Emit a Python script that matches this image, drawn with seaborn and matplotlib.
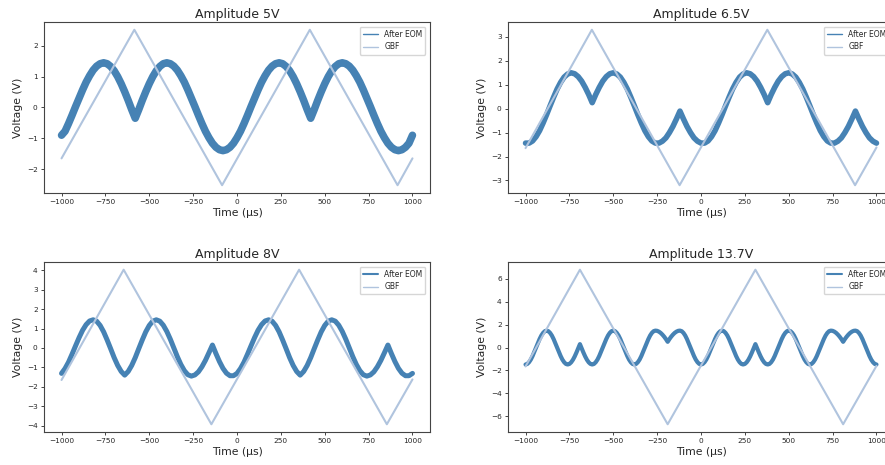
import numpy as np
import matplotlib
matplotlib.use("Agg")
import matplotlib.pyplot as plt
from matplotlib.lines import Line2D
import seaborn as sns

EOM_COLOR = "#4682b4"
GBF_COLOR = "#b0c4de"

titles = ["Amplitude 5V", "Amplitude 6.5V", "Amplitude 8V", "Amplitude 13.7V"]

# sample times of the photodiode trace (µs)
time_20 = np.arange(-1000, 1001, 20)
time_10 = np.arange(-1000, 1001, 10)

# output after the EOM (V)
eom_5v = [
    -0.90, -0.77, -0.52, -0.25, 0.03, 0.30, 0.57, 0.82, 1.03, 1.21,
    1.34, 1.42, 1.45, 1.42, 1.33, 1.19, 1.00, 0.77, 0.51, 0.23,
    -0.07, -0.35, -0.07, 0.23, 0.51, 0.77, 1.00, 1.19, 1.33, 1.42,
    1.45, 1.42, 1.34, 1.21, 1.03, 0.82, 0.57, 0.30, 0.03, -0.25,
    -0.52, -0.77, -0.98, -1.16, -1.29, -1.37, -1.40, -1.37, -1.29, -1.16,
    -0.98, -0.77, -0.52, -0.25, 0.03, 0.30, 0.57, 0.82, 1.03, 1.21,
    1.34, 1.42, 1.45, 1.42, 1.33, 1.19, 1.00, 0.77, 0.51, 0.23,
    -0.07, -0.35, -0.07, 0.23, 0.51, 0.77, 1.00, 1.19, 1.33, 1.42,
    1.45, 1.42, 1.34, 1.21, 1.03, 0.82, 0.57, 0.30, 0.03, -0.25,
    -0.52, -0.77, -0.98, -1.16, -1.29, -1.37, -1.40, -1.37, -1.29, -1.16,
    -0.90,
]

eom_6v5 = [
    -1.44, -1.44, -1.35, -1.17, -0.92, -0.60, -0.25, 0.12, 0.48, 0.82,
    1.10, 1.32, 1.45, 1.50, 1.46, 1.34, 1.15, 0.89, 0.59, 0.25,
    0.59, 0.89, 1.15, 1.34, 1.46, 1.50, 1.45, 1.32, 1.10, 0.82,
    0.48, 0.12, -0.25, -0.60, -0.92, -1.17, -1.35, -1.44, -1.44, -1.36,
    -1.22, -1.00, -0.74, -0.43, -0.10, -0.43, -0.74, -1.00, -1.22, -1.36,
    -1.44, -1.44, -1.35, -1.17, -0.92, -0.60, -0.25, 0.12, 0.48, 0.82,
    1.10, 1.32, 1.45, 1.50, 1.46, 1.34, 1.15, 0.89, 0.59, 0.25,
    0.59, 0.89, 1.15, 1.34, 1.46, 1.50, 1.45, 1.32, 1.10, 0.82,
    0.48, 0.12, -0.25, -0.60, -0.92, -1.17, -1.35, -1.44, -1.44, -1.36,
    -1.22, -1.00, -0.74, -0.43, -0.10, -0.43, -0.74, -1.00, -1.22, -1.36,
    -1.44,
]

eom_8v = [
    -1.31, -1.06, -0.73, -0.32, 0.11, 0.53, 0.91, 1.20, 1.39, 1.45,
    1.38, 1.16, 0.83, 0.41, -0.04, -0.50, -0.90, -1.21, -1.40, -1.21,
    -0.90, -0.50, -0.04, 0.41, 0.83, 1.16, 1.38, 1.45, 1.38, 1.17,
    0.85, 0.45, 0.00, -0.45, -0.85, -1.17, -1.38, -1.45, -1.39, -1.23,
    -0.97, -0.64, -0.25, 0.15, -0.29, -0.70, -1.05, -1.30, -1.43, -1.43,
    -1.31, -1.06, -0.73, -0.32, 0.11, 0.53, 0.91, 1.20, 1.39, 1.45,
    1.38, 1.16, 0.83, 0.41, -0.04, -0.50, -0.90, -1.21, -1.40, -1.21,
    -0.90, -0.50, -0.04, 0.41, 0.83, 1.16, 1.38, 1.45, 1.38, 1.17,
    0.85, 0.45, 0.00, -0.45, -0.85, -1.17, -1.38, -1.45, -1.39, -1.23,
    -0.97, -0.64, -0.25, 0.15, -0.29, -0.70, -1.05, -1.30, -1.43, -1.43,
    -1.31,
]

eom_13v7 = [
    -1.48, -1.43, -1.28, -1.05, -0.74, -0.38, 0.00, 0.38, 0.74, 1.05,
    1.28, 1.43, 1.48, 1.43, 1.28, 1.05, 0.74, 0.38, 0.00, -0.38,
    -0.74, -1.05, -1.28, -1.43, -1.48, -1.43, -1.29, -1.07, -0.78, -0.44,
    -0.07, 0.30, -0.07, -0.44, -0.78, -1.07, -1.29, -1.43, -1.48, -1.43,
    -1.28, -1.05, -0.74, -0.38, 0.00, 0.38, 0.74, 1.05, 1.28, 1.43,
    1.48, 1.43, 1.28, 1.05, 0.74, 0.38, 0.00, -0.38, -0.74, -1.05,
    -1.28, -1.43, -1.48, -1.43, -1.28, -1.05, -0.74, -0.38, 0.00, 0.38,
    0.74, 1.05, 1.28, 1.43, 1.48, 1.46, 1.39, 1.28, 1.13, 0.95,
    0.74, 0.50, 0.74, 0.95, 1.13, 1.28, 1.39, 1.46, 1.48, 1.43,
    1.28, 1.05, 0.74, 0.38, 0.00, -0.38, -0.74, -1.05, -1.28, -1.43,
    -1.48, -1.43, -1.28, -1.05, -0.74, -0.38, 0.00, 0.38, 0.74, 1.05,
    1.28, 1.43, 1.48, 1.43, 1.28, 1.05, 0.74, 0.38, 0.00, -0.38,
    -0.74, -1.05, -1.28, -1.43, -1.48, -1.43, -1.29, -1.07, -0.78, -0.44,
    -0.07, 0.30, -0.07, -0.44, -0.78, -1.07, -1.29, -1.43, -1.48, -1.43,
    -1.28, -1.05, -0.74, -0.38, 0.00, 0.38, 0.74, 1.05, 1.28, 1.43,
    1.48, 1.43, 1.28, 1.05, 0.74, 0.38, 0.00, -0.38, -0.74, -1.05,
    -1.28, -1.43, -1.48, -1.43, -1.28, -1.05, -0.74, -0.38, 0.00, 0.38,
    0.74, 1.05, 1.28, 1.43, 1.48, 1.46, 1.39, 1.28, 1.13, 0.95,
    0.74, 0.50, 0.74, 0.95, 1.13, 1.28, 1.39, 1.46, 1.48, 1.43,
    1.28, 1.05, 0.74, 0.38, 0.00, -0.38, -0.74, -1.05, -1.28, -1.43,
    -1.48,
]

# triangle from the signal generator: corner times (µs) and voltages (V)
gbf_5v_t = [-1000, -585, -85, 415, 915, 1000]
gbf_5v = [-1.65, 2.52, -2.52, 2.52, -2.52, -1.65]
gbf_6v5_t = [-1000, -622, -122, 378, 878, 1000]
gbf_6v5 = [-1.65, 3.30, -3.20, 3.30, -3.20, -1.62]
gbf_8v_t = [-1000, -646, -146, 354, 854, 1000]
gbf_8v = [-1.65, 4.03, -3.93, 4.03, -3.93, -1.62]
gbf_13v7_t = [-1000, -690, -190, 310, 810, 1000]
gbf_13v7 = [-1.65, 6.80, -6.70, 6.80, -6.70, -1.60]

panels = [
    (time_20, eom_5v, gbf_5v_t, gbf_5v, 5.4, 1.0),
    (time_20, eom_6v5, gbf_6v5_t, gbf_6v5, 4.0, 1.0),
    (time_20, eom_8v, gbf_8v_t, gbf_8v, 3.6, 1.5),
    (time_10, eom_13v7, gbf_13v7_t, gbf_13v7, 3.0, 1.5),
]

sns.set_theme(style="ticks")
plt.rcParams["font.family"] = ["DejaVu Sans"]

fig = plt.figure(figsize=(8.85, 4.65), dpi=100)
boxes = [
    [0.0497, 0.585, 0.4362, 0.3677],
    [0.574, 0.585, 0.4362, 0.3677],
    [0.0497, 0.071, 0.4362, 0.3656],
    [0.574, 0.071, 0.4362, 0.3656],
]

for box, title, (t, eom, gt, gv, lw, leg_lw) in zip(boxes, titles, panels):
    ax = fig.add_axes(box)
    sns.lineplot(x=t, y=eom, ax=ax, color=EOM_COLOR, linewidth=lw,
                 solid_joinstyle="round", zorder=2)
    sns.lineplot(x=gt, y=gv, ax=ax, color=GBF_COLOR, linewidth=1.5, zorder=3)
    ax.set_title(title, fontsize=9, pad=3)
    ax.set_xlabel("Time (µs)", fontsize=7.8, labelpad=2)
    ax.set_ylabel("Voltage (V)", fontsize=7.8, labelpad=3)
    ax.set_xticks([-1000, -750, -500, -250, 0, 250, 500, 750, 1000])
    ax.tick_params(labelsize=5.3, length=2.5, width=0.6, pad=2)
    for s in ax.spines.values():
        s.set_linewidth(0.8)
        s.set_color("#444444")
    handles = [
        Line2D([0], [0], color=EOM_COLOR, lw=leg_lw, label="After EOM"),
        Line2D([0], [0], color=GBF_COLOR, lw=1.0, label="GBF"),
    ]
    ax.legend(handles=handles, loc="upper right", fontsize=5.5,
              frameon=True, framealpha=0.8, borderaxespad=0.6)

fig.savefig("out.png", dpi=100)
